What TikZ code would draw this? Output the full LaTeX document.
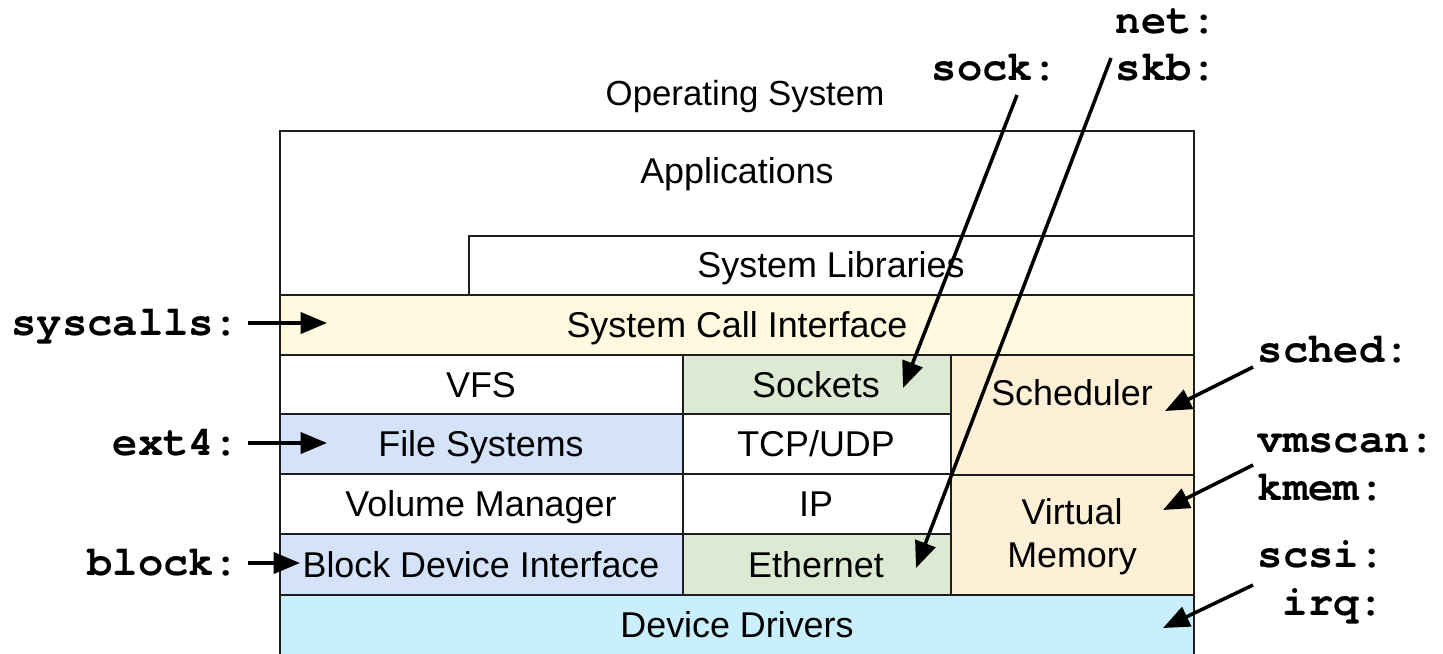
\documentclass[tikz,border=0pt]{standalone}
\usepackage{fontspec}
\setmainfont{Liberation Sans}
\newfontfamily\probefont{TeX Gyre Cursor}
\usepackage{tikz}
\usetikzlibrary{arrows.meta}
\definecolor{edge}{HTML}{1E1E1E}
\definecolor{sysc}{HTML}{FFF9DF}
\definecolor{fsblue}{HTML}{D4E3FA}
\definecolor{netgreen}{HTML}{DDEAD3}
\definecolor{kern}{HTML}{FEF0D7}
\definecolor{drv}{HTML}{C9EEFC}
\tikzset{
  layer/.style={draw=edge, line width=0.6pt},
  lab/.style={font=\fontsize{10.2}{12.2}\selectfont, text=black, inner sep=0pt, align=center},
  probe/.style={font=\probefont\bfseries\fontsize{12}{13.6}\selectfont, text=black, inner sep=0pt},
  hook/.style={draw=black, line width=1pt, -{Triangle[length=7.5pt,width=6pt]}},
}

\begin{document}
\begin{tikzpicture}[x=0.01cm,y=-0.01cm]
\useasboundingbox (0,0) rectangle (1443,653);

% user space
\draw[layer] (280,131) rectangle (1194,295);
\draw[layer] (469,295) |- (1194,236);
\draw[layer, fill=sysc] (280,295) rectangle (1194,355);

% kernel columns (rows top/bottom/fill)
\foreach \ya/\yb/\c in {355/414/white,414/474/fsblue,474/534/white,534/595/fsblue}{
  \draw[layer, fill=\c] (280,\ya) rectangle (683,\yb);
}
\foreach \ya/\yb/\c in {355/414/netgreen,414/474/white,474/534/white,534/595/netgreen}{
  \draw[layer, fill=\c] (683,\ya) rectangle (951,\yb);
}
\draw[layer, fill=kern] (951,355) rectangle (1194,475);
\draw[layer, fill=kern] (951,475) rectangle (1194,595);
\draw[layer, fill=drv] (280,595) rectangle (1194,670);

% layer names
\node[lab, anchor=base, font=\fontsize{9.9}{12}\selectfont] (os) at (745,105) {Operating System};
\node[lab, anchor=base] (app) at (737,183) {Applications};
\node[lab, anchor=base] (lib) at (831,277) {System Libraries};
\node[lab, anchor=base] (sci) at (737,337) {System Call Interface};
\node[lab, anchor=base] (vfs) at (481,397) {VFS};
\node[lab, anchor=base] (fs) at (481,456) {File Systems};
\node[lab, anchor=base] (vol) at (481,516) {Volume Manager};
\node[lab, anchor=base] (bdi) at (481,577) {Block Device Interface};
\node[lab, anchor=base] (skt) at (816,397) {Sockets};
\node[lab, anchor=base] (tcp) at (816,456) {TCP/UDP};
\node[lab, anchor=base] (ip) at (816,516) {IP};
\node[lab, anchor=base] (eth) at (816,577) {Ethernet};
\node[lab, anchor=base] (sch) at (1072,405) {Scheduler};
\node[lab] (vm) at (1072,537) {Virtual\\Memory};
\node[lab, anchor=base] (dd) at (737,637) {Device Drivers};

% tracepoint groups
\node[probe, anchor=base east] (lsys) at (240,335) {syscalls:};
\node[probe, anchor=base east] (lext) at (240,455) {ext4:};
\node[probe, anchor=base east] (lblk) at (240,575) {block:};
\node[probe, anchor=base west] (lsock) at (931,80) {sock:};
\node[probe, anchor=base west] (lnet) at (1115,33) {net:};
\node[probe, anchor=base west] (lskb) at (1115,80) {skb:};
\node[probe, anchor=base west] (lsched) at (1257,362) {sched:};
\node[probe, anchor=base west] (lvms) at (1257,452) {vmscan:};
\node[probe, anchor=base west] (lkmem) at (1257,500) {kmem:};
\node[probe, anchor=base west] (lscsi) at (1257,567) {scsi:};
\node[probe, anchor=base west] (lirq) at (1282,615) {irq:};

% arrow tips
\coordinate (tsys) at (327,323);
\coordinate (text4) at (327,443);
\coordinate (tblk) at (300,563);
\coordinate (tsock) at (903,388);
\coordinate (tskb) at (916,568);
\coordinate (tsched) at (1165,411);
\coordinate (tvm) at (1163,510);
\coordinate (tdrv) at (1163,628);

\draw[hook] ([shift={(8,-12)}]lsys.base east) -- (tsys);
\draw[hook] ([shift={(8,-12)}]lext.base east) -- (text4);
\draw[hook] ([shift={(8,-12)}]lblk.base east) -- (tblk);
\draw[hook] ([shift={(22,15)}]lsock.base) -- (tsock);
\draw[hook] ([shift={(-4,-22)}]lskb.base west) -- (tskb);
\draw[hook] ([shift={(-4,5)}]lsched.base west) -- (tsched);
\draw[hook] ([shift={(-4,13)}]lvms.base west) -- (tvm);
\draw[hook] ([shift={(-4,18)}]lscsi.base west) -- (tdrv);
\end{tikzpicture}
\end{document}
